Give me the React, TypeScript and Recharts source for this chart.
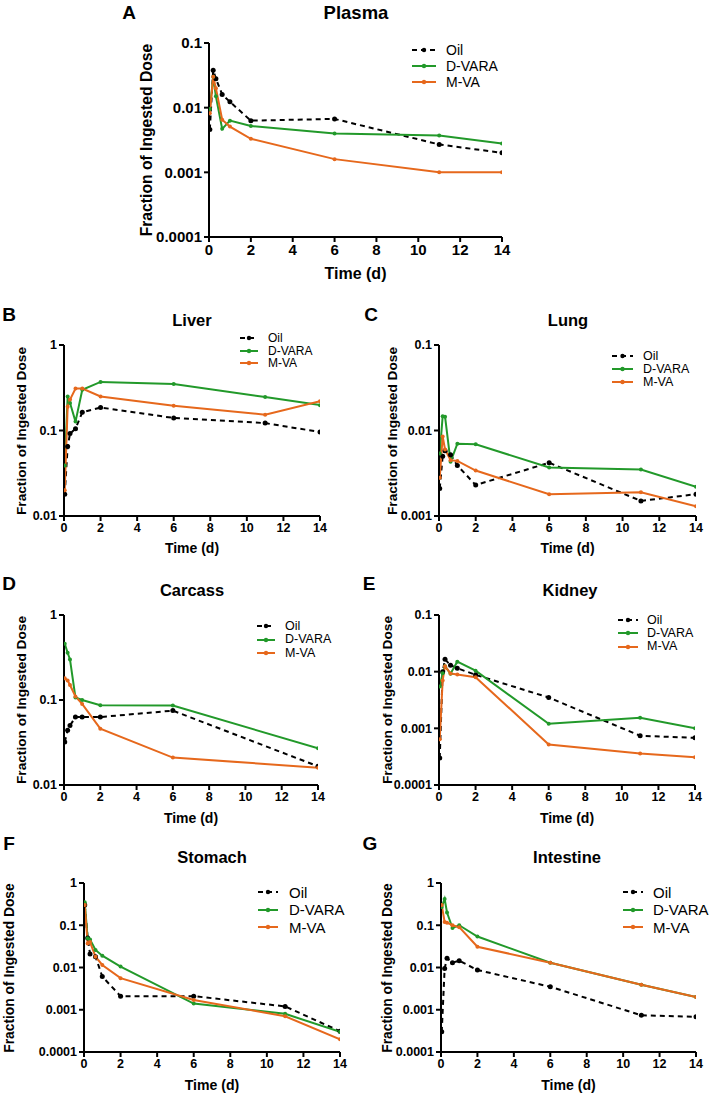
import React from "react";
import { LineChart, Line, XAxis, YAxis, Legend } from "recharts";

const FONT = '"Liberation Sans", Arial, Helvetica, sans-serif';

// sampling times (days)
const times = [0.04, 0.2, 0.33, 0.63, 1, 2, 6, 11, 14];
const timeTicks = [0, 2, 4, 6, 8, 10, 12, 14];

// fraction of ingested dose, per tissue
const plasmaOil = [0.0046, 0.038, 0.028, 0.016, 0.0123, 0.0063, 0.0067, 0.0027, 0.002];
const plasmaDvara = [0.0095, 0.03, 0.015, 0.0047, 0.0063, 0.0052, 0.004, 0.0037, 0.0028];
const plasmaMva = [0.0082, 0.03, 0.02, 0.0065, 0.0051, 0.0033, 0.0016, 0.001, 0.001];

const liverOil = [0.018, 0.065, 0.092, 0.105, 0.163, 0.186, 0.14, 0.122, 0.096];
const liverDvara = [0.039, 0.25, 0.21, 0.127, 0.3, 0.37, 0.35, 0.246, 0.198];
const liverMva = [0.02, 0.19, 0.23, 0.31, 0.31, 0.25, 0.195, 0.153, 0.22];

const lungOil = [0.0021, 0.005, 0.0058, 0.0052, 0.0039, 0.0023, 0.0042, 0.0015, 0.0018];
const lungDvara = [0.0054, 0.0147, 0.0145, 0.0043, 0.007, 0.0069, 0.0037, 0.0035, 0.0022];
const lungMva = [0.0028, 0.0085, 0.006, 0.0045, 0.0044, 0.0034, 0.0018, 0.0019, 0.0013];

const carcassOil = [0.032, 0.044, 0.05, 0.063, 0.063, 0.063, 0.075, null, 0.0166];
const carcassDvara = [0.46, 0.36, 0.3, 0.107, 0.1, 0.087, 0.086, null, 0.027];
const carcassMva = [0.18, 0.17, 0.15, 0.11, 0.09, 0.046, 0.021, null, 0.016];

const kidneyOil = [0.0003, 0.01, 0.0165, 0.013, 0.0115, 0.0088, 0.0035, 0.00074, 0.00068];
const kidneyDvara = [0.0055, 0.0094, 0.0125, 0.0092, 0.015, 0.0104, 0.0012, 0.00154, 0.001];
const kidneyMva = [0.00064, 0.007, 0.0125, 0.0093, 0.0089, 0.008, 0.00052, 0.00036, 0.00031];

const stomachOil = [0.3, 0.05, 0.021, 0.018, 0.0061, 0.0021, 0.0021, 0.0012, 0.00031];
const stomachDvara = [0.35, 0.049, 0.046, 0.026, 0.019, 0.0105, 0.0014, 0.0008, 0.0003];
const stomachMva = [0.3, 0.037, 0.04, 0.018, 0.0115, 0.0056, 0.0017, 0.0007, 0.0002];

const intestineOil = [0.0003, 0.0095, 0.0165, 0.013, 0.0145, 0.0087, 0.0035, 0.00074, 0.00068];
const intestineDvara = [0.27, 0.42, 0.2, 0.086, 0.1, 0.054, 0.013, 0.0039, 0.002];
const intestineMva = [0.3, 0.12, 0.115, 0.1, 0.09, 0.031, 0.013, 0.0039, 0.002];

const SERIES = [
  { key: "oil", name: "Oil", color: "#000000", dash: "5 4", r: 2.5 },
  { key: "dvara", name: "D-VARA", color: "#22992a", dash: undefined, r: 2 },
  { key: "mva", name: "M-VA", color: "#e6681c", dash: undefined, r: 2 },
];

const PANELS = [
  {
    letter: "A", title: "Plasma", oil: plasmaOil, dvara: plasmaDvara, mva: plasmaMva,
    yTicks: [0.0001, 0.001, 0.01, 0.1],
    x: 209, y: 43, w: 293, h: 194, tickFont: 15, axisFont: 15.7, titleFont: 18.5,
    letterPos: [129, 12], titlePos: [356, 13], yTitleX: 147, xTitleY: 274,
    leg: { x: 412, y: 50, icon: 24, gap: 10, font: 14, row: 16 },
  },
  {
    letter: "B", title: "Liver", oil: liverOil, dvara: liverDvara, mva: liverMva,
    yTicks: [0.01, 0.1, 1],
    x: 64, y: 345, w: 256, h: 171, tickFont: 12.5, axisFont: 13.7, titleFont: 16.5,
    letterPos: [9, 314], titlePos: [192, 320], yTitleX: 22, xTitleY: 548,
    leg: { x: 240, y: 338, icon: 18, gap: 10, font: 12, row: 12.7 },
  },
  {
    letter: "C", title: "Lung", oil: lungOil, dvara: lungDvara, mva: lungMva,
    yTicks: [0.001, 0.01, 0.1],
    x: 439, y: 345, w: 257, h: 171, tickFont: 12.5, axisFont: 13.7, titleFont: 16.5,
    letterPos: [371, 314], titlePos: [568, 320], yTitleX: 393, xTitleY: 548,
    leg: { x: 612, y: 356, icon: 21, gap: 10, font: 12.5, row: 13 },
  },
  {
    letter: "D", title: "Carcass", oil: carcassOil, dvara: carcassDvara, mva: carcassMva,
    yTicks: [0.01, 0.1, 1],
    x: 64, y: 615, w: 254, h: 170, tickFont: 12.5, axisFont: 13.7, titleFont: 16.5,
    letterPos: [9, 583], titlePos: [192, 590], yTitleX: 22, xTitleY: 818,
    leg: { x: 257, y: 626, icon: 18, gap: 10, font: 12.5, row: 13.5 },
  },
  {
    letter: "E", title: "Kidney", oil: kidneyOil, dvara: kidneyDvara, mva: kidneyMva,
    yTicks: [0.0001, 0.001, 0.01, 0.1],
    x: 439, y: 615, w: 256, h: 170, tickFont: 12.5, axisFont: 13.7, titleFont: 16.5,
    letterPos: [369, 583], titlePos: [570, 590], yTitleX: 388, xTitleY: 818,
    leg: { x: 618, y: 620, icon: 20, gap: 9, font: 12.5, row: 13.3 },
  },
  {
    letter: "F", title: "Stomach", oil: stomachOil, dvara: stomachDvara, mva: stomachMva,
    yTicks: [0.0001, 0.001, 0.01, 0.1, 1],
    x: 84, y: 883, w: 256, h: 169, tickFont: 12.5, axisFont: 13.8, titleFont: 16.5,
    letterPos: [9, 843], titlePos: [212, 857], yTitleX: 10, xTitleY: 1085,
    leg: { x: 258, y: 892, icon: 20, gap: 11, font: 15, row: 17.5 },
  },
  {
    letter: "G", title: "Intestine", oil: intestineOil, dvara: intestineDvara, mva: intestineMva,
    yTicks: [0.0001, 0.001, 0.01, 0.1, 1],
    x: 441, y: 883, w: 255, h: 169, tickFont: 12.5, axisFont: 13.8, titleFont: 16.5,
    letterPos: [370, 843], titlePos: [567, 857], yTitleX: 388, xTitleY: 1085,
    leg: { x: 623, y: 892, icon: 20, gap: 10, font: 15, row: 17.5 },
  },
];

type PanelDef = (typeof PANELS)[number];

const bold = { fontFamily: FONT, fontWeight: 700, color: "#000", whiteSpace: "nowrap" as const };

function TextAt({ x, y, size, rotate, children }: { x: number; y: number; size: number; rotate?: boolean; children: React.ReactNode }) {
  return (
    <div
      style={{
        ...bold,
        position: "absolute",
        left: x,
        top: y,
        fontSize: size,
        lineHeight: 1,
        transform: `translate(-50%, -50%)${rotate ? " rotate(-90deg)" : ""}`,
      }}
    >
      {children}
    </div>
  );
}

function Panel({ p }: { p: PanelDef }) {
  const data = times.map((t, i) => ({ t, oil: p.oil[i], dvara: p.dvara[i], mva: p.mva[i] }));
  const left = p.x - 60;
  const top = p.y - 8;
  const tickStyle = { fill: "#000", fontSize: p.tickFont, fontWeight: 700, fontFamily: FONT };

  const legendContent = () => (
    <div style={{ fontFamily: FONT, fontSize: p.leg.font, lineHeight: 1, color: "#000" }}>
      {SERIES.map((s) => (
        <div key={s.key} style={{ display: "flex", alignItems: "center", height: p.leg.row }}>
          <svg width={p.leg.icon} height={8} style={{ marginRight: p.leg.gap, flex: "none" }}>
            <line x1={0} y1={4} x2={p.leg.icon} y2={4} stroke={s.color} strokeWidth={2} strokeDasharray={s.dash} />
            <circle cx={p.leg.icon / 2} cy={4} r={2.2} fill={s.color} />
          </svg>
          <span style={{ whiteSpace: "nowrap" }}>{s.name}</span>
        </div>
      ))}
    </div>
  );

  return (
    <>
      <TextAt x={p.letterPos[0]} y={p.letterPos[1]} size={19}>{p.letter}</TextAt>
      <TextAt x={p.titlePos[0]} y={p.titlePos[1]} size={p.titleFont}>{p.title}</TextAt>
      <TextAt x={p.yTitleX} y={p.y + p.h / 2} size={p.axisFont} rotate>Fraction of Ingested Dose</TextAt>
      <TextAt x={p.x + p.w / 2} y={p.xTitleY} size={p.axisFont + 0.3}>Time (d)</TextAt>
      <div style={{ position: "absolute", left, top }}>
        <LineChart width={p.w + 72} height={p.h + 38} data={data} margin={{ top: 8, right: 12, left: 0, bottom: 0 }}>
          <XAxis
            dataKey="t"
            type="number"
            domain={[0, 14]}
            ticks={timeTicks}
            interval={0}
            height={30}
            allowDataOverflow
            axisLine={{ stroke: "#000", strokeWidth: 2 }}
            tickLine={{ stroke: "#000", strokeWidth: 2 }}
            tickSize={5}
            tickMargin={2}
            tick={tickStyle}
          />
          <YAxis
            type="number"
            scale="log"
            domain={[p.yTicks[0], p.yTicks[p.yTicks.length - 1]]}
            ticks={p.yTicks}
            interval={0}
            width={60}
            allowDataOverflow
            axisLine={{ stroke: "#000", strokeWidth: 2 }}
            tickLine={{ stroke: "#000", strokeWidth: 2 }}
            tickSize={5}
            tickMargin={2}
            tick={tickStyle}
            tickFormatter={(v: number) => String(v)}
          />
          <Legend
            layout="horizontal"
            verticalAlign="middle"
            align="center"
            content={legendContent}
            wrapperStyle={{ left: p.leg.x - left, top: p.leg.y - top - p.leg.row / 2, width: "auto", height: "auto" }}
          />
          {SERIES.map((s) => (
            <Line
              key={s.key}
              dataKey={s.key}
              name={s.name}
              type="linear"
              stroke={s.color}
              strokeWidth={2}
              strokeDasharray={s.dash}
              connectNulls
              dot={{ r: s.r, fill: s.color, stroke: "none", strokeDasharray: "0" }}
              activeDot={false}
              isAnimationActive={false}
            />
          ))}
        </LineChart>
      </div>
    </>
  );
}

export default function App() {
  return (
    <div
      style={{
        position: "absolute",
        left: 0,
        top: 0,
        width: 721,
        height: 1096,
        background: "#fff",
        overflow: "hidden",
        fontFamily: FONT,
      }}
    >
      {PANELS.map((p) => (
        <Panel key={p.letter} p={p} />
      ))}
    </div>
  );
}
